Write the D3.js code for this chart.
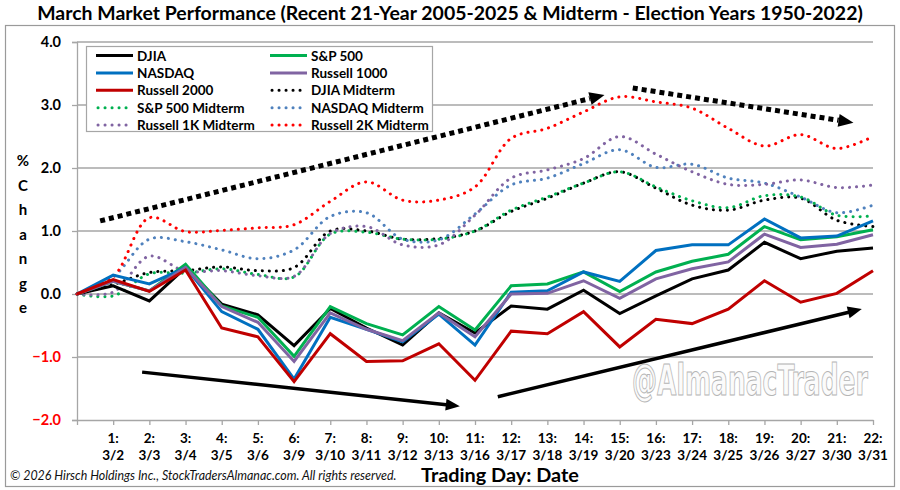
<!DOCTYPE html>
<html><head><meta charset="utf-8">
<script src="https://cdn.jsdelivr.net/npm/d3@7"></script>
<style>
html,body{margin:0;padding:0;background:#fff;}
svg{display:block;font-family:Lato,"Open Sans",sans-serif;}
</style></head>
<body><svg id="chart" width="900" height="490"></svg>
<script>
// ---- data ----
const dayNums = d3.range(1, 23);
const dates = ["3/2","3/3","3/4","3/5","3/6","3/9","3/10","3/11","3/12","3/13","3/16","3/17","3/18","3/19","3/20","3/23","3/24","3/25","3/26","3/27","3/30","3/31"];
const yTicks = [-2, -1, 0, 1, 2, 3, 4];

const djia   = [0, 0.13, -0.11, 0.42, -0.16, -0.33, -0.82, -0.23, -0.54, -0.81, -0.30, -0.62, -0.19, -0.24, 0.06, -0.31, -0.03, 0.24, 0.38, 0.82, 0.56, 0.68, 0.73];
const sp500  = [0, 0.20, 0.05, 0.47, -0.19, -0.37, -0.99, -0.20, -0.47, -0.65, -0.20, -0.57, 0.13, 0.16, 0.35, 0.04, 0.35, 0.52, 0.63, 1.07, 0.86, 0.91, 1.02];
const nasdaq = [0, 0.30, 0.16, 0.42, -0.28, -0.56, -1.35, -0.37, -0.56, -0.76, -0.32, -0.81, 0.03, 0.05, 0.35, 0.20, 0.69, 0.78, 0.78, 1.19, 0.89, 0.92, 1.16];
const r1000  = [0, 0.20, 0.05, 0.42, -0.20, -0.45, -1.07, -0.30, -0.56, -0.74, -0.30, -0.68, 0.00, 0.01, 0.21, -0.07, 0.24, 0.40, 0.51, 0.95, 0.74, 0.79, 0.94];
const r2000  = [0, 0.23, 0.04, 0.38, -0.54, -0.68, -1.39, -0.63, -1.07, -1.06, -0.79, -1.37, -0.59, -0.63, -0.28, -0.84, -0.40, -0.47, -0.24, 0.21, -0.13, 0.01, 0.37];

const djiaMid   = [0, 0.15, 0.34, 0.37, 0.43, 0.37, 0.42, 1.00, 1.00, 0.87, 0.88, 1.00, 1.31, 1.52, 1.76, 1.94, 1.68, 1.41, 1.33, 1.49, 1.52, 1.17, 1.07];
const spMid     = [0, -0.03, 0.32, 0.33, 0.40, 0.31, 0.27, 0.95, 0.98, 0.87, 0.87, 1.00, 1.33, 1.54, 1.76, 1.94, 1.70, 1.48, 1.37, 1.56, 1.54, 1.25, 1.24];
const nasdaqMid = [0, 0.27, 0.87, 0.83, 0.70, 0.56, 0.70, 1.23, 1.29, 0.87, 0.86, 1.27, 1.73, 1.84, 2.07, 2.29, 2.01, 2.06, 1.84, 1.76, 1.54, 1.29, 1.41];
const r1kMid    = [0, 0.03, 0.60, 0.36, 0.37, 0.29, 0.28, 0.96, 1.07, 0.78, 0.78, 1.25, 1.84, 1.97, 2.15, 2.50, 2.22, 1.94, 1.74, 1.74, 1.81, 1.69, 1.73];
const r2kMid    = [0, 0.27, 1.21, 0.99, 1.01, 1.05, 1.10, 1.47, 1.78, 1.49, 1.49, 1.70, 2.47, 2.63, 2.89, 3.13, 3.05, 2.95, 2.63, 2.35, 2.53, 2.31, 2.50];

const seriesNames = ["DJIA","S&P 500","NASDAQ","Russell 1000","Russell 2000","DJIA Midterm","S&P 500 Midterm","NASDAQ Midterm","Russell 1K Midterm","Russell 2K Midterm"];
const seriesValues = [djia, sp500, nasdaq, r1000, r2000, djiaMid, spMid, nasdaqMid, r1kMid, r2kMid];
const seriesColors = ["#000000","#00b050","#0070c0","#8064a2","#c00000","#000000","#00b050","#4f81bd","#8064a2","#ff0000"];
const seriesDotted = [false,false,false,false,false,true,true,true,true,true];
// legend order (two columns, row-major)
const legendOrder = ["DJIA","S&P 500","NASDAQ","Russell 1000","Russell 2000","DJIA Midterm","S&P 500 Midterm","NASDAQ Midterm","Russell 1K Midterm","Russell 2K Midterm"];

// trend arrows in data units [day, value]
const dottedArrows = [[[0.64, 1.16],[14.58, 3.16]], [[15.36, 3.27],[21.46, 2.72]]];
const solidArrows  = [[[1.80, -1.24],[10.58, -1.78]], [[11.63, -1.63],[21.69, -0.24]]];

// ---- drawing ----
const svg = d3.select("#chart");
const x = d3.scaleLinear().domain([0, 22]).range([77, 873]);
const y = d3.scaleLinear().domain([-2, 4]).range([420, 42]);
const gridCol = "#a6a6a6";

function fit(sel, target){
  const w = sel.node().getComputedTextLength();
  const fs = parseFloat(sel.attr("font-size"));
  sel.attr("font-size", fs * target / w);
}

// outer border
svg.append("rect").attr("x",5.5).attr("y",25.5).attr("width",889).attr("height",461)
  .attr("fill","none").attr("stroke","#9a9a9a").attr("stroke-width",1.2);

// title
const title = svg.append("text").attr("x",450).attr("y",20).attr("text-anchor","middle")
  .attr("font-weight","bold").attr("font-size",17).attr("fill","#000")
  .text("March Market Performance (Recent 21-Year 2005-2025 & Midterm - Election Years 1950-2022)");
fit(title, 826);

// gridlines
svg.append("g").selectAll("line").data(yTicks.filter(d => d > -2)).join("line")
  .attr("x1", x(0)).attr("x2", x(22)).attr("y1", d => y(d)).attr("y2", d => y(d))
  .attr("stroke", gridCol).attr("stroke-width", 1.3);

// y axis
const yAxis = svg.append("g").attr("transform", `translate(${x(0)},0)`)
  .call(d3.axisLeft(y).tickValues(yTicks).tickSize(5).tickPadding(11)
    .tickFormat(d => (d < 0 ? "\u2212" + Math.abs(d).toFixed(1) : d.toFixed(1))));
yAxis.select(".domain").attr("stroke", gridCol).attr("stroke-width", 1.3);
yAxis.selectAll(".tick line").attr("stroke", gridCol).attr("stroke-width", 1.3);
yAxis.selectAll(".tick text").attr("font-family","Lato, sans-serif").attr("font-size",14.5)
  .attr("font-weight","bold").attr("fill", d => d < 0 ? "#ff0000" : "#000");

// x axis
const xAxis = svg.append("g").attr("transform", `translate(0,${y(-2)})`)
  .call(d3.axisBottom(x).tickValues(d3.range(0, 23)).tickSize(5).tickSizeOuter(0).tickFormat(""));
xAxis.select(".domain").attr("stroke", gridCol).attr("stroke-width", 1.3);
xAxis.selectAll(".tick line").attr("stroke", gridCol).attr("stroke-width", 1.3);
const xl = svg.append("g").selectAll("text").data(dayNums).join("text")
  .attr("x", d => x(d)).attr("y", 443).attr("text-anchor","middle")
  .attr("font-size",13.5).attr("font-weight","bold").attr("fill","#000");
xl.append("tspan").attr("x", d => x(d)).attr("dy",0).text(d => d + ":");
xl.append("tspan").attr("x", d => x(d)).attr("dy",16.5).text((d,i) => dates[i]);

// y axis title (stacked letters)
svg.append("g").selectAll("text").data(["%","C","h","a","n","g","e"]).join("text")
  .attr("x", 23).attr("y", (d,i) => 166 + i * 24.5).attr("text-anchor","middle")
  .attr("font-size",15).attr("font-weight","bold").text(d => d);

// x axis title
const xt = svg.append("text").attr("x",421).attr("y",482).attr("font-size",16).attr("font-weight","bold")
  .text("Trading Day: Date");
fit(xt, 158);

// copyright
const cp = svg.append("text").attr("x",10).attr("y",480).attr("font-size",12).attr("font-style","italic")
  .attr("fill","#111").text("\u00a9 2026 Hirsch Holdings Inc., StockTradersAlmanac.com. All rights reserved.");
fit(cp, 387);

// watermark (condensed by horizontal scaling)
const wm = svg.append("text").attr("x",0).attr("y",0)
  .attr("font-family","'DejaVu Sans Condensed', 'Liberation Sans Narrow', sans-serif")
  .attr("font-weight","bold").attr("font-size",42).attr("fill","#fbfbfb").attr("stroke","#b5b5b5").attr("stroke-width",1)
  .text("@AlmanacTrader");
const wmW = wm.node().getComputedTextLength();
wm.attr("transform", `translate(632,395) scale(${236 / wmW},1)`);

// lines
const lineSolid = d3.line().x((d,i) => x(i)).y(d => y(d));
const lineSmooth = d3.line().x((d,i) => x(i)).y(d => y(d)).curve(d3.curveCatmullRom.alpha(0.5));
const gL = svg.append("g");
const drawOrder = [5,6,7,8,9,0,1,2,3,4];
drawOrder.forEach(k => {
  const p = gL.append("path").datum(seriesValues[k]).attr("fill","none").attr("stroke", seriesColors[k]);
  if (seriesDotted[k]) {
    p.attr("d", lineSmooth).attr("stroke-width",3).attr("stroke-linecap","round").attr("stroke-dasharray","0.1 6.9");
  } else {
    p.attr("d", lineSolid).attr("stroke-width",3).attr("stroke-linejoin","miter");
  }
});

// arrows
function arrowHead(g, p0, p1, len, wid){
  const dx = p1[0]-p0[0], dy = p1[1]-p0[1], L = Math.hypot(dx,dy);
  const ux = dx/L, uy = dy/L, nx = -uy, ny = ux;
  const bx = p1[0]-ux*len, by = p1[1]-uy*len;
  g.append("path").attr("d", `M${p1[0]},${p1[1]}L${bx+nx*wid/2},${by+ny*wid/2}L${bx-nx*wid/2},${by-ny*wid/2}Z`).attr("fill","#000");
  return [bx, by];
}
const gA = svg.append("g");
dottedArrows.forEach(a => {
  const p0 = [x(a[0][0]), y(a[0][1])], p1 = [x(a[1][0]), y(a[1][1])];
  const b = arrowHead(gA, p0, p1, 15, 13);
  gA.append("line").attr("x1",p0[0]).attr("y1",p0[1]).attr("x2",b[0]).attr("y2",b[1])
    .attr("stroke","#000").attr("stroke-width",5).attr("stroke-dasharray","5 4");
});
solidArrows.forEach(a => {
  const p0 = [x(a[0][0]), y(a[0][1])], p1 = [x(a[1][0]), y(a[1][1])];
  const b = arrowHead(gA, p0, p1, 14, 12);
  gA.append("line").attr("x1",p0[0]).attr("y1",p0[1]).attr("x2",b[0]+ (p1[0]-b[0])*0.2).attr("y2",b[1]+(p1[1]-b[1])*0.2)
    .attr("stroke","#000").attr("stroke-width",3.5);
});

// legend
const lg = svg.append("g");
lg.append("rect").attr("x",86.5).attr("y",46.5).attr("width",346).attr("height",85)
  .attr("fill","#fff").attr("stroke",gridCol).attr("stroke-width",1.2);
legendOrder.forEach((name, j) => {
  const k = seriesNames.indexOf(name);
  const col = j % 2, row = Math.floor(j / 2);
  const lx = col === 0 ? 96 : 270, ly = 55.5 + row * 17.4;
  const l = lg.append("line").attr("x1",lx).attr("x2",lx+37).attr("y1",ly).attr("y2",ly)
    .attr("stroke", seriesColors[k]).attr("stroke-width",3);
  if (seriesDotted[k]) l.attr("stroke-linecap","round").attr("stroke-dasharray","0.1 6.9").attr("x1",lx+2);
  lg.append("text").attr("x", lx + 41).attr("y", ly + 5).attr("font-size",13.5).attr("font-weight","bold").text(name);
});
</script></body></html>
